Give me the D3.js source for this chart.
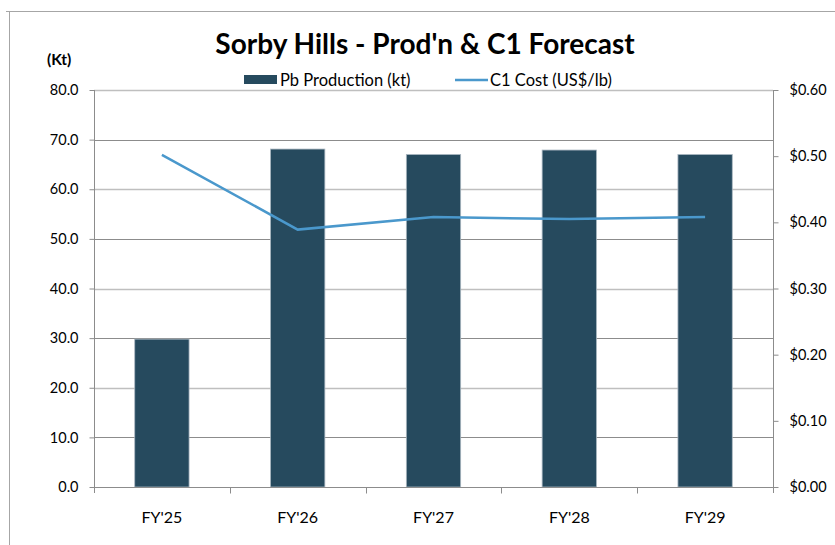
<!DOCTYPE html>
<html><head><meta charset="utf-8">
<script src="https://cdn.jsdelivr.net/npm/d3@7"></script>
<style>
body{margin:0;background:#fff;}
svg{display:block;font-family:Lato,"Open Sans",sans-serif;}
</style></head>
<body>
<svg id="c" width="835" height="545"></svg>
<script>
const categories = ["FY'25","FY'26","FY'27","FY'28","FY'29"];
const production = [29.8, 68.1, 67.0, 67.9, 67.0];
const c1Cost = [0.502, 0.389, 0.408, 0.405, 0.408];
const leftTicks = [0,10,20,30,40,50,60,70,80];
const rightTicks = [0,0.1,0.2,0.3,0.4,0.5,0.6];

const svg = d3.select("#c");
const L = 94, R = 773, T = 90, B = 487;

// outer border
svg.append("path").attr("d","M6,11.5H835M9.5,11V545").attr("stroke","#a6a6a6").attr("fill","none");

const x = d3.scaleBand().domain(categories).range([L,R]).paddingInner(0.6).paddingOuter(0.3);
const xb = d3.scaleBand().domain(categories).range([L,R]);
const y = d3.scaleLinear().domain([0,80]).range([B,T]);
const y2 = d3.scaleLinear().domain([0,0.6]).range([B,T]);

// gridlines
svg.append("g").selectAll("line").data(leftTicks.slice(1)).join("line")
  .attr("x1",L).attr("x2",R).attr("y1",d=>Math.round(y(d))+0.5).attr("y2",d=>Math.round(y(d))+0.5)
  .attr("stroke",(d,i)=>i%2===0?"#8c8c8c":"#bfbfbf").attr("stroke-width",(d,i)=>i%2===0?1:1.5);

// bars
svg.append("g").selectAll("rect").data(production).join("rect")
  .attr("x",(d,i)=>x(categories[i])).attr("width",x.bandwidth())
  .attr("y",d=>y(d)).attr("height",d=>B-y(d))
  .attr("fill","#264a5e").attr("stroke","#a9b6c0").attr("stroke-width",0.8);

// left axis
const gl = svg.append("g").attr("transform",`translate(${L+0.5},0)`)
  .call(d3.axisLeft(y).tickValues(leftTicks).tickFormat(d3.format(".1f")).tickSize(5).tickPadding(11));
gl.select(".domain").attr("d",`M0,${T}V${B+6}`);
// right axis
const gr = svg.append("g").attr("transform",`translate(${R+0.5},0)`)
  .call(d3.axisRight(y2).tickValues(rightTicks).tickFormat(d=>"$"+d3.format(".2f")(d)).tickSize(5).tickPadding(11));
gr.select(".domain").attr("d",`M0,${T}V${B+6}`);
// bottom axis
const gb = svg.append("g").attr("transform",`translate(0,${B+0.5})`)
  .call(d3.axisBottom(xb).tickSize(0).tickPadding(24));
gb.select(".domain").attr("d",`M${L},0H${R}`);
gb.append("g").selectAll("line").data(categories.slice(1)).join("line")
  .attr("x1",d=>Math.round(xb(d))+0.5).attr("x2",d=>Math.round(xb(d))+0.5).attr("y1",0).attr("y2",6);

[gl,gr,gb].forEach(g=>{
  g.selectAll(".domain,line").attr("stroke","#8c8c8c");
  g.selectAll("text").attr("fill","#000").style("font-size","14.5px").style("font-family","Lato");
});
gb.selectAll("text").style("font-size","16px");

// line
svg.append("path").datum(c1Cost)
  .attr("d",d3.line().x((d,i)=>xb(categories[i])+xb.bandwidth()/2).y(d=>y2(d)))
  .attr("fill","none").attr("stroke","#4a98cc").attr("stroke-width",2.5);

// title
svg.append("text").attr("x",425).attr("y",54).attr("text-anchor","middle")
  .style("font-weight","bold").style("font-size","28px").text("Sorby Hills - Prod'n & C1 Forecast");
svg.append("text").attr("x",47).attr("y",65).style("font-weight","bold").style("font-size","15.5px").text("(Kt)");

// legend
const lg = svg.append("g").style("font-size","16.5px");
lg.append("rect").attr("x",244).attr("y",75).attr("width",33).attr("height",9).attr("fill","#264a5e");
lg.append("text").attr("x",280).attr("y",86).text("Pb Production (kt)");
lg.append("line").attr("x1",455).attr("x2",488).attr("y1",80).attr("y2",80).attr("stroke","#4a98cc").attr("stroke-width",2.5);
lg.append("text").attr("x",490).attr("y",86).text("C1 Cost (US$/lb)");
</script>
</body></html>
